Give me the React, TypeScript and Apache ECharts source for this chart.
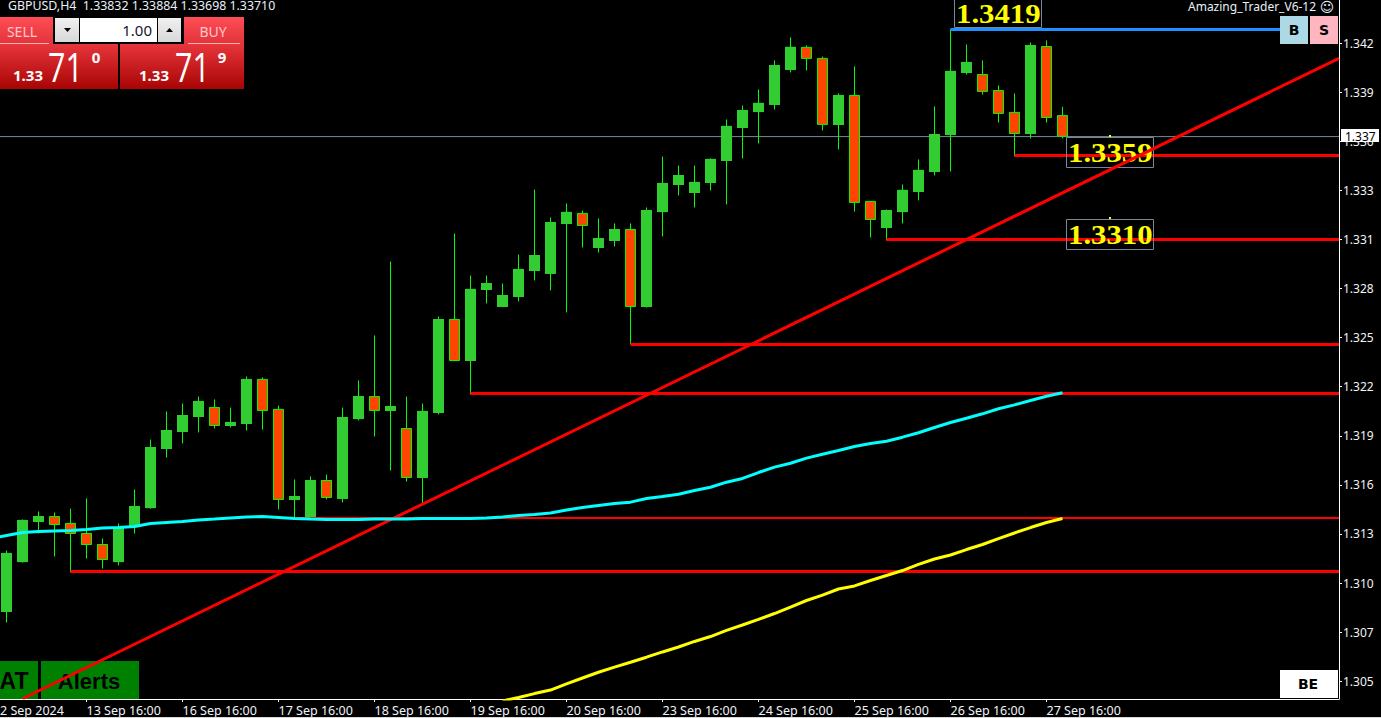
import React, { useEffect, useRef } from "react";
import * as echarts from "echarts";

const opens = [
  1.30902,1.31197,1.31434,1.31463,1.31422,1.31363,1.31298,1.31197,1.31404,1.31516,
  1.31865,1.31966,1.32054,1.32107,1.32001,1.32013,1.32273,1.32096,1.31564,1.31463,
  1.31676,1.31570,1.32042,1.32172,1.32090,1.31983,1.31694,1.32078,1.32627,1.32385,
  1.32805,1.32704,1.32763,1.32917,1.32900,1.33195,1.33254,1.33053,1.33094,1.33159,
  1.32704,1.33265,1.33425,1.33378,1.33437,1.33567,1.33762,1.33856,1.33898,1.34105,
  1.34235,1.34170,1.33780,1.33951,1.33325,1.33171,1.33265,1.33384,1.33502,1.33720,
  1.34087,1.34075,1.33980,1.33851,1.33726,1.34240,1.33832,
];
const closes = [
  1.31245,1.31440,1.31463,1.31416,1.31363,1.31298,1.31209,1.31392,1.31522,1.31871,
  1.31971,1.32060,1.32143,1.32001,1.32019,1.32273,1.32090,1.31564,1.31581,1.31676,
  1.31576,1.32048,1.32172,1.32090,1.32113,1.31694,1.32084,1.32627,1.32385,1.32805,
  1.32840,1.32769,1.32923,1.33005,1.33200,1.33260,1.33183,1.33106,1.33159,1.32704,
  1.33271,1.33431,1.33478,1.33437,1.33573,1.33768,1.33862,1.33904,1.34128,1.34235,
  1.34170,1.33780,1.33951,1.33319,1.33218,1.33271,1.33390,1.33508,1.33720,1.34093,
  1.34146,1.33975,1.33845,1.33726,1.34246,1.33821,1.33710,
];
const lows = [
  1.30837,1.31191,1.31363,1.31227,1.31132,1.31215,1.31156,1.31174,1.31363,1.31510,
  1.31812,1.31895,1.31960,1.31983,1.31989,1.31971,1.31977,1.31505,1.31457,1.31457,
  1.31564,1.31546,1.32031,1.31936,1.31735,1.31670,1.31540,1.32066,1.32385,1.32184,
  1.32722,1.32704,1.32734,1.32858,1.32799,1.32669,1.33053,1.33023,1.33059,1.32480,
  1.32698,1.33118,1.33360,1.33289,1.33390,1.33307,1.33579,1.33667,1.33868,1.34087,
  1.34099,1.33744,1.33632,1.33265,1.33112,1.33094,1.33195,1.33331,1.33478,1.33502,
  1.34075,1.33957,1.33791,1.33590,1.33697,1.33791,1.33698,
];
const highs = [
  1.31262,1.31446,1.31493,1.31487,1.31510,1.31570,1.31333,1.31422,1.31623,1.31918,
  1.32084,1.32131,1.32172,1.32155,1.32107,1.32291,1.32285,1.32119,1.31682,1.31700,
  1.31711,1.32107,1.32267,1.32533,1.32970,1.32172,1.32131,1.32645,1.33135,1.32887,
  1.32887,1.32840,1.33011,1.33395,1.33230,1.33313,1.33271,1.33224,1.33195,1.33195,
  1.33289,1.33590,1.33537,1.33537,1.33579,1.33809,1.33892,1.33986,1.34158,1.34294,
  1.34246,1.34181,1.33963,1.34122,1.33325,1.33277,1.33425,1.33573,1.33886,1.34341,
  1.34252,1.34158,1.34010,1.33963,1.34264,1.34276,1.33884,
];
const cyanMA = [
  1.31351,1.31369,1.31375,1.31378,1.31381,1.31386,1.31395,1.31398,1.31404,1.31422,
  1.31428,1.31434,1.31443,1.31448,1.31454,1.31460,1.31463,1.31457,1.31451,1.31448,
  1.31446,1.31446,1.31446,1.31448,1.31448,1.31448,1.31451,1.31451,1.31451,1.31451,
  1.31454,1.31460,1.31469,1.31475,1.31484,1.31502,1.31516,1.31528,1.31540,1.31548,
  1.31570,1.31581,1.31595,1.31617,1.31636,1.31666,1.31688,1.31723,1.31755,1.31778,
  1.31808,1.31831,1.31853,1.31877,1.31895,1.31908,1.31932,1.31958,1.31989,1.32019,
  1.32044,1.32070,1.32100,1.32123,1.32149,1.32174,1.32194,
];
const yellowMAStart = 31;
const yellowMA = [
  1.30373,1.30394,1.30417,1.30438,1.30474,1.30509,1.30543,1.30573,1.30602,
  1.30632,1.30663,1.30692,1.30725,1.30754,1.30790,1.30822,1.30855,1.30890,1.30928,
  1.30967,1.30999,1.31035,1.31053,1.31085,1.31115,1.31144,1.31180,1.31212,1.31236,
  1.31268,1.31298,1.31333,1.31366,1.31398,1.31428,1.31451,
];

const dateTickIdx = [-0.40625, 5, 11, 17, 23, 29, 35, 41, 47, 53, 59, 65];
const dateTickLabels = [
  "2 Sep 2024", "13 Sep 16:00", "16 Sep 16:00", "17 Sep 16:00", "18 Sep 16:00", "19 Sep 16:00",
  "20 Sep 16:00", "23 Sep 16:00", "24 Sep 16:00", "25 Sep 16:00", "26 Sep 16:00", "27 Sep 16:00",
];
const priceTicks = [1.3426,1.3397,1.3368,1.3339,1.3310,1.3281,1.3252,1.3223,1.3194,1.3165,1.3136,1.3107,1.3078,1.3049];
const priceTickLabels = ["1.342","1.339","1.336","1.333","1.331","1.328","1.325","1.322","1.319","1.316","1.313","1.310","1.307","1.305"];

const xMin = -0.40625;
const xMax = 83.28125;
const yMin = 1.30385;
const yMax = 1.34515;
const lastPrice = 1.33708;

const levels = [
  { from: 63, value: 1.33596, width: 3 },
  { from: 55, value: 1.331, width: 3 },
  { from: 39, value: 1.3248, width: 3 },
  { from: 29, value: 1.3219, width: 3 },
  { from: 18, value: 1.31454, width: 2 },
  { from: 4, value: 1.31138, width: 3 },
];
const blueLevel = { from: 59, to: 79.6, value: 1.34341 };
const trendLine = [[1.03, 1.30388], [83.28, 1.3417]];

const SANS = '"Noto Sans", sans-serif';
const UI = 20;

function box(x: number, y: number, w: number, h: number, fill: any) {
  return { type: "rect", z: UI, shape: { x, y, width: w, height: h }, style: { fill } };
}
function label(text: string, x: number, y: number, size: number, fill: string, opts: any = {}) {
  return {
    type: "text", z: opts.z ?? UI, x, y, scaleX: opts.scaleX ?? 1,
    style: {
      text, fill, fontSize: size, fontFamily: opts.family ?? SANS, fontWeight: opts.weight ?? "normal",
      textAlign: opts.align ?? "left", align: opts.align ?? "left",
      textVerticalAlign: "middle", verticalAlign: "middle",
      ...(opts.lineHeight ? { lineHeight: opts.lineHeight } : {}),
    },
  };
}

export default function App() {
  const ref = useRef<HTMLDivElement>(null);
  useEffect(() => {
    document.body.style.margin = "0";
    document.body.style.background = "#000";
    document.documentElement.style.overflow = "hidden";
    const chart = echarts.init(ref.current!, null, { renderer: "svg" });

    const topGrad = () => new echarts.graphic.LinearGradient(0, 0, 0, 1, [
      { offset: 0, color: "#ff4d55" }, { offset: 1, color: "#e2343a" },
    ]);
    const panelGrad = () => new echarts.graphic.LinearGradient(0, 0, 0, 1, [
      { offset: 0, color: "#e8363c" }, { offset: 1, color: "#a80404" },
    ]);
    const grayGrad = () => new echarts.graphic.LinearGradient(0, 0, 0, 1, [
      { offset: 0, color: "#f0f0f0" }, { offset: 1, color: "#d8d8d8" },
    ]);

    const annotBox = (x: number, y: number, text: string, dy = 15.5) => [
      { type: "rect", z: 4, shape: { x: x + 0.5, y: y + 0.5, width: 87, height: 30 },
        style: { fill: "transparent", stroke: "#778899", lineWidth: 1 } },
      label(text, x + 2, y + dy, 27, "#ffff00", { z: 4, family: '"Liberation Serif", serif', weight: "bold", scaleX: 1.14, lineHeight: 24 }),
    ];

    const graphicEls: any[] = [
      { ...box(0, 661, 38, 38, "#008000"), z: 0 },
      { ...box(41, 661, 98, 38, "#008000"), z: 0 },
      label("AT", 14, 681, 23, "#000000", { z: 0, weight: "bold", align: "center", family: '"Liberation Sans", sans-serif' }),
      label("Alerts", 89, 681, 22, "#000000", { z: 0, weight: "bold", align: "center", family: '"Liberation Sans", sans-serif' }),
      ...annotBox(954, -3, "1.3419", 17),
      ...annotBox(1066, 137, "1.3359"),
      ...annotBox(1066, 219, "1.3310"),
      box(1109, 135, 2, 2, "#ffff00"),
      box(1109, 217, 2, 2, "#ffff00"),
      label("GBPUSD,H4  1.33832 1.33884 1.33698 1.33710", 8, 6, 12, "#e8f0f8", { scaleX: 1.03, lineHeight: 12 }),
      label("Amazing_Trader_V6-12", 1188, 6, 12, "#e8f0f8", { lineHeight: 12 }),
      label("☺", 1327, 7, 14, "#e8f0f8", { align: "center", family: '"DejaVu Sans", sans-serif', lineHeight: 14 }),
      box(1280, 16, 28, 28, "#add8e6"),
      label("B", 1294, 30, 14, "#000000", { weight: "bold", align: "center", family: '"DejaVu Sans", sans-serif' }),
      box(1310, 16, 28, 28, "#ffb6c1"),
      label("S", 1324, 30, 14, "#000000", { weight: "bold", align: "center", family: '"DejaVu Sans", sans-serif' }),
      box(1280, 670, 58, 28, "#ffffff"),
      label("BE", 1308, 684, 14, "#000000", { weight: "bold", align: "center", family: '"DejaVu Sans", sans-serif' }),
      box(1341, 129, 38, 13, "#ffffff"),
      label("1.337", 1345, 136, 12, "#000000"),
      box(0, 17, 53, 27, topGrad()),
      box(0, 43, 49, 1, "#ffb0b0"),
      label("SELL", 22, 31, 14, "#ffc8cc", { align: "center" }),
      box(184, 17, 60, 27, topGrad()),
      box(188, 43, 52, 1, "#ffb0b0"),
      label("BUY", 213, 31, 14, "#ffc8cc", { align: "center" }),
      box(54, 17, 128, 26, "#000000"),
      box(55, 18, 24, 24, grayGrad()),
      box(80, 18, 77, 24, "#ffffff"),
      box(158, 18, 23, 24, grayGrad()),
      label("1.00", 152, 30, 15, "#101830", { align: "right" }),
      { type: "polygon", z: UI, shape: { points: [[64, 28], [71, 28], [67.5, 32]] }, style: { fill: "#000" } },
      { type: "polygon", z: UI, shape: { points: [[166, 32], [173, 32], [169.5, 28]] }, style: { fill: "#000" } },
      box(0, 44, 118, 45, panelGrad()),
      box(120, 44, 124, 45, panelGrad()),
      label("1.33", 13, 75, 15, "#ffffff", { weight: "bold" }),
      label("71", 48, 66, 40, "#ffffff", { family: '"Open Sans", sans-serif', scaleX: 0.76 }),
      label("0", 96, 57, 15, "#ffffff", { weight: "bold", align: "center" }),
      label("1.33", 139, 75, 15, "#ffffff", { weight: "bold" }),
      label("71", 175, 66, 40, "#ffffff", { family: '"Open Sans", sans-serif', scaleX: 0.76 }),
      label("9", 222, 57, 15, "#ffffff", { weight: "bold", align: "center" }),
      box(0, 717, 1381, 1, "#d8d8d8"),
    ];

    const candleRows = opens.map((o, i) => [i, o, closes[i], lows[i], highs[i]]);
    const upBodies = opens
      .map((o, i) => [i, o, closes[i], o, closes[i]])
      .filter((r) => r[2] >= r[1]);

    const hLine = (name: string, from: number, to: number, value: number, width: number, color: string, z: number) => ({
      type: "line", name, z, symbol: "none", silent: true, animation: false,
      lineStyle: { color, width, cap: "butt" },
      data: [[from, value], [to, value]],
    });

    chart.setOption({
      animation: false,
      backgroundColor: "#000000",
      tooltip: { show: false },
      legend: { show: false },
      grid: { left: 0, top: 0, width: 1339, height: 699, containLabel: false, outerBoundsMode: "none" },
      xAxis: {
        type: "value", min: xMin, max: xMax, splitLine: { show: false },
        axisLine: { show: true, onZero: false, lineStyle: { color: "#ffffff", width: 1 } },
        axisTick: { show: true, length: 3, customValues: dateTickIdx.slice(1), lineStyle: { color: "#ffffff" } },
        axisLabel: {
          show: true, customValues: dateTickIdx, align: "left", margin: 5, color: "#f0f4f8",
          fontFamily: SANS, fontSize: 12.5, hideOverlap: false, showMinLabel: true, showMaxLabel: true,
          formatter: (v: number) => dateTickLabels[dateTickIdx.indexOf(v)] ?? "",
        },
      },
      yAxis: {
        type: "value", position: "right", min: yMin, max: yMax, scale: true, splitLine: { show: false },
        axisLine: { show: true, onZero: false, lineStyle: { color: "#ffffff", width: 1 } },
        axisTick: { show: true, length: 3, customValues: priceTicks, lineStyle: { color: "#ffffff" } },
        axisLabel: {
          show: true, customValues: priceTicks, margin: 4, color: "#f0f4f8", fontFamily: SANS, fontSize: 12,
          hideOverlap: false,
          formatter: (v: number) => priceTickLabels[priceTicks.indexOf(v)] ?? "",
        },
      },
      graphic: { elements: graphicEls },
      series: [
        hLine("Last price", xMin, xMax, lastPrice, 1, "#778899", 1),
        {
          type: "candlestick", name: "GBPUSD", z: 2, barWidth: 10, silent: true,
          itemStyle: { color: "#32cd32", color0: "#ff4500", borderColor: "#00ff00", borderColor0: "#00ff00", borderWidth: 1 },
          data: candleRows,
        },
        {
          type: "candlestick", name: "Up bodies", z: 2.5, barWidth: 10, silent: true,
          itemStyle: { color: "#32cd32", color0: "#32cd32", borderColor: "#32cd32", borderColor0: "#32cd32", borderWidth: 1 },
          data: upBodies,
        },
        ...levels.map((l, i) => hLine("Level " + i, l.from, xMax, l.value, l.width, "#ff0000", 3)),
        hLine("High", blueLevel.from, blueLevel.to, blueLevel.value, 3, "#1e90ff", 3),
        {
          type: "line", name: "Trend", z: 5, symbol: "none", silent: true,
          lineStyle: { color: "#ff0000", width: 3, cap: "butt" }, data: trendLine,
        },
        {
          type: "line", name: "MA cyan", z: 6, symbol: "none", silent: true,
          lineStyle: { color: "#00ffff", width: 3 },
          data: [[-1, 1.31333], ...cyanMA.map((v, i) => [i, v])],
        },
        {
          type: "line", name: "MA yellow", z: 6, symbol: "none", silent: true,
          lineStyle: { color: "#ffff00", width: 3 },
          data: yellowMA.map((v, i) => [i + yellowMAStart, v]),
        },
      ],
    });
    return () => chart.dispose();
  }, []);
  return <div ref={ref} style={{ position: "fixed", left: 0, top: 0, width: 1381, height: 718, background: "#000" }} />;
}
